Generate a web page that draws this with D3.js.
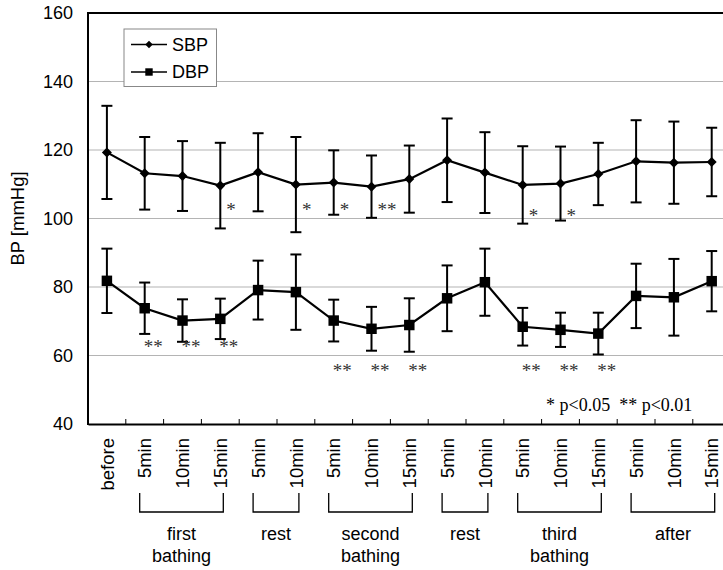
<!DOCTYPE html>
<html>
<head>
<meta charset="utf-8">
<script src="https://cdn.jsdelivr.net/npm/d3@7"></script>
<style>
  body { margin: 0; background: #fff; }
  svg { display: block; }
</style>
</head>
<body>
<div id="vis"></div>
<script>
var width = 723,
    height = 570;

// time points (17) and the phase brackets under them
var tickLabels = ["before", "5min", "10min", "15min", "5min", "10min", "5min", "10min", "15min",
                  "5min", "10min", "5min", "10min", "15min", "5min", "10min", "15min"];
var phases = [
  {lines: ["first", "bathing"], from: 1, to: 3},
  {lines: ["rest"], from: 4, to: 5},
  {lines: ["second", "bathing"], from: 6, to: 8},
  {lines: ["rest"], from: 9, to: 10},
  {lines: ["third", "bathing"], from: 11, to: 13},
  {lines: ["after"], from: 14, to: 16}
];

// mean and SD [mmHg]
var sbpMean = [119.3, 113.2, 112.4, 109.6, 113.5, 109.9, 110.5, 109.3, 111.5, 117.0, 113.4, 109.8, 110.2, 113.0, 116.7, 116.3, 116.5];
var sbpSD   = [13.6, 10.6, 10.2, 12.5, 11.4, 13.9, 9.4, 9.1, 9.8, 12.2, 11.8, 11.3, 10.8, 9.1, 12.0, 12.0, 10.0];
var dbpMean = [81.8, 73.8, 70.2, 70.7, 79.1, 78.5, 70.2, 67.8, 68.9, 76.7, 81.4, 68.4, 67.5, 66.4, 77.4, 77.0, 81.7];
var dbpSD   = [9.4, 7.5, 6.2, 5.9, 8.6, 11.0, 6.1, 6.4, 7.8, 9.6, 9.8, 5.5, 5.0, 6.1, 9.4, 11.2, 8.8];

// significance marks: index, mark, level (mmHg) where it sits
var sbpSig = [[3, "*", 103.4], [5, "*", 103.4], [6, "*", 103.4], [7, "**", 103.4], [11, "*", 101.7], [12, "*", 101.7]];
var dbpSig = [[1, "**", 63.4], [2, "**", 63.4], [3, "**", 63.4], [6, "**", 56.4], [7, "**", 56.4], [8, "**", 56.4],
              [11, "**", 56.4], [12, "**", 56.4], [13, "**", 56.4]];

var yTicks = [40, 60, 80, 100, 120, 140, 160];

// plot box (right edge runs past the window, as in the original)
var pLeft = 88, pTop = 13, pBottom = 424, pRight = 730.6;

var svg = d3.select("#vis").append("svg")
    .attr("width", width)
    .attr("height", height);

var x = d3.scaleBand().domain(d3.range(tickLabels.length)).range([pLeft, pRight]).padding(0);
var y = d3.scaleLinear().domain([40, 160]).range([pBottom, pTop]);
var cx = function(i) { return x(i) + x.bandwidth() / 2; };

var sans = "'Liberation Sans', Arial, sans-serif";
var serif = "'Liberation Serif', 'Times New Roman', serif";

// grid
svg.append("g")
  .selectAll("line")
  .data(yTicks.filter(function(d) { return d > 40 && d < 160; }))
  .enter().append("line")
    .attr("x1", pLeft).attr("x2", pRight)
    .attr("y1", function(d) { return y(d); })
    .attr("y2", function(d) { return y(d); })
    .style("stroke", "#b4b4b4")
    .style("stroke-width", 1.2);

// y labels
svg.append("g")
  .selectAll("text")
  .data(yTicks)
  .enter().append("text")
    .attr("x", 73)
    .attr("y", function(d) { return y(d); })
    .attr("dy", "0.36em")
    .style("text-anchor", "end")
    .style("font-family", sans)
    .style("font-size", "18px")
    .text(function(d) { return d; });

svg.append("text")
    .attr("transform", "translate(24," + y(100) + ") rotate(-90)")
    .style("text-anchor", "middle")
    .style("font-family", sans)
    .style("font-size", "18.5px")
    .text("BP [mmHg]");

// frame: left axis, top line
svg.append("line").attr("x1", pLeft).attr("x2", pLeft).attr("y1", pTop - 1).attr("y2", pBottom + 1)
    .style("stroke", "#000").style("stroke-width", 2);
svg.append("line").attr("x1", pLeft).attr("x2", pRight).attr("y1", pTop).attr("y2", pTop)
    .style("stroke", "#000").style("stroke-width", 2);

// bottom axis with inward ticks at band boundaries
var xAxis = d3.axisBottom(x).tickSize(0).tickFormat("");
var gx = svg.append("g").attr("transform", "translate(0," + pBottom + ")").call(xAxis);
gx.select(".domain").style("stroke", "#000").style("stroke-width", 2);
gx.selectAll(".tick").remove();
gx.selectAll(".bnd")
  .data(d3.range(1, tickLabels.length))
  .enter().append("line")
    .attr("x1", function(i) { return x(i); })
    .attr("x2", function(i) { return x(i); })
    .attr("y1", 0).attr("y2", -5)
    .style("stroke", "#000").style("stroke-width", 1);

// rotated tick labels
svg.append("g")
  .selectAll("text")
  .data(tickLabels)
  .enter().append("text")
    .attr("transform", function(d, i) { return "translate(" + cx(i) + ",438) rotate(-90)"; })
    .attr("dy", "0.36em")
    .style("text-anchor", "end")
    .style("font-family", sans)
    .style("font-size", "18.5px")
    .text(function(d) { return d; });

// phase brackets
var ph = svg.append("g").selectAll("g").data(phases).enter().append("g");
ph.append("path")
    .attr("d", function(d) {
      var x0 = cx(d.from) - 5, x1 = cx(d.to) + 3;
      return "M" + x0 + ",493V512H" + x1 + "V493";
    })
    .style("fill", "none").style("stroke", "#000").style("stroke-width", 1.3);
ph.append("text")
    .attr("x", function(d) { return (cx(d.from) - 5 + cx(d.to) + 3) / 2; })
    .attr("y", 540)
    .style("text-anchor", "middle")
    .style("font-family", sans)
    .style("font-size", "18px")
    .selectAll("tspan")
    .data(function(d) { return d.lines; })
    .enter().append("tspan")
      .attr("x", function() { return d3.select(this.parentNode).attr("x"); })
      .attr("dy", function(d, i) { return i ? 21.5 : 0; })
      .text(function(d) { return d; });

// series
function drawSeries(mean, sd, symbol, size) {
  var g = svg.append("g");
  var cap = 5.5;
  var bars = g.selectAll(".eb").data(mean).enter().append("g");
  bars.append("line")
      .attr("x1", function(d, i) { return cx(i); })
      .attr("x2", function(d, i) { return cx(i); })
      .attr("y1", function(d, i) { return y(d + sd[i]); })
      .attr("y2", function(d, i) { return y(d - sd[i]); });
  bars.append("line")
      .attr("x1", function(d, i) { return cx(i) - cap; })
      .attr("x2", function(d, i) { return cx(i) + cap; })
      .attr("y1", function(d, i) { return y(d + sd[i]); })
      .attr("y2", function(d, i) { return y(d + sd[i]); });
  bars.append("line")
      .attr("x1", function(d, i) { return cx(i) - cap; })
      .attr("x2", function(d, i) { return cx(i) + cap; })
      .attr("y1", function(d, i) { return y(d - sd[i]); })
      .attr("y2", function(d, i) { return y(d - sd[i]); });
  bars.selectAll("line").style("stroke", "#000").style("stroke-width", 2);

  var line = d3.line().x(function(d, i) { return cx(i); }).y(function(d) { return y(d); });
  g.append("path").datum(mean).attr("d", line)
      .style("fill", "none").style("stroke", "#000").style("stroke-width", 2.2);

  g.selectAll(".mk").data(mean).enter().append("path")
      .attr("transform", function(d, i) { return "translate(" + cx(i) + "," + y(d) + ")"; })
      .attr("d", d3.symbol().type(symbol).size(size))
      .style("fill", "#000");
}
drawSeries(sbpMean, sbpSD, d3.symbolDiamond2, 64);
drawSeries(dbpMean, dbpSD, d3.symbolSquare, 110);

// significance
function drawSig(list, dx) {
  svg.append("g").selectAll("text").data(list).enter().append("text")
      .attr("x", function(d) { return cx(d[0]) + dx; })
      .attr("y", function(d) { return y(d[2]); })
      .attr("dy", "0.5em")
      .style("font-family", serif)
      .style("font-size", "19px")
      .style("fill", "#333")
      .text(function(d) { return d[1]; });
}
drawSig(sbpSig, 6);
drawSig(dbpSig, -1);

svg.append("text")
    .attr("x", 546).attr("y", 411)
    .style("font-family", serif)
    .style("font-size", "18px")
    .attr("xml:space", "preserve")
    .text("* p<0.05  ** p<0.01");

// legend
var lg = svg.append("g");
lg.append("rect").attr("x", 124).attr("y", 29).attr("width", 92.5).attr("height", 57.5)
    .style("fill", "#fff").style("stroke", "#888").style("stroke-width", 1);
var legendItems = [["SBP", d3.symbolDiamond2, 36, 44.5], ["DBP", d3.symbolSquare, 55, 72]];
legendItems.forEach(function(it) {
  lg.append("line").attr("x1", 131).attr("x2", 167).attr("y1", it[3]).attr("y2", it[3])
      .style("stroke", "#000").style("stroke-width", 1.5);
  lg.append("path").attr("transform", "translate(149," + it[3] + ")")
      .attr("d", d3.symbol().type(it[1]).size(it[2])).style("fill", "#000");
  lg.append("text").attr("x", 172).attr("y", it[3]).attr("dy", "0.36em")
      .style("font-family", sans).style("font-size", "18px").text(it[0]);
});
</script>
</body>
</html>
